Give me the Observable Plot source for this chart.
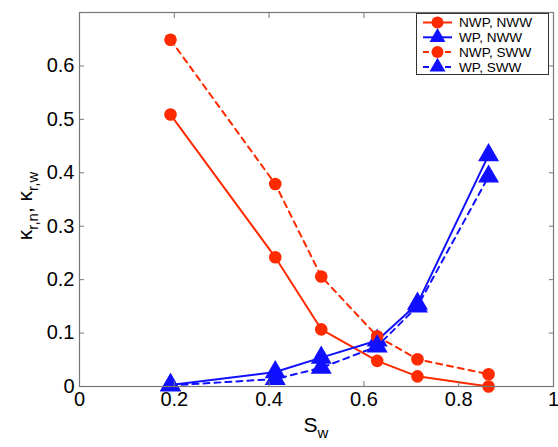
<!DOCTYPE html>
<html>
<head>
<meta charset="utf-8">
<script src="https://cdn.jsdelivr.net/npm/d3@7"></script>
<script src="https://cdn.jsdelivr.net/npm/@observablehq/plot@0.6"></script>
<style>
  body { margin: 0; background: #fff; }
  #wrap { position: relative; width: 558px; height: 447px; font-family: "Liberation Sans", Arial, sans-serif; }
  #legend { position: absolute; left: 416px; top: 13px; }
</style>
</head>
<body>
<div id="wrap"><div id="chart"></div><div id="legend"></div></div>
<script>
const sw = [0.192, 0.413, 0.51, 0.628, 0.713, 0.863];
const nwpNWW = [0.509, 0.242, 0.107, 0.048, 0.019, 0.0];
const wpNWW  = [0.003, 0.027, 0.054, 0.086, 0.155, 0.433];
const nwpSWW = [0.649, 0.379, 0.206, 0.094, 0.051, 0.023];
const wpSWW  = [0.002, 0.014, 0.035, 0.075, 0.150, 0.393];
const seriesNames = ["NWP, NWW", "WP, NWW", "NWP, SWW", "WP, SWW"];
const seriesValues = [nwpNWW, wpNWW, nwpSWW, wpSWW];
const xTicks = [0, 0.2, 0.4, 0.6, 0.8, 1];
const yTicks = [0, 0.1, 0.2, 0.3, 0.4, 0.5, 0.6];

const RED = "#ff2a00", BLUE = "#1010ff";
const style = {
  "NWP, NWW": {color: RED, dash: null, symbol: "circle"},
  "WP, NWW": {color: BLUE, dash: null, symbol: "triangle"},
  "NWP, SWW": {color: RED, dash: "6,5", symbol: "circle"},
  "WP, SWW": {color: BLUE, dash: "6,5", symbol: "triangle"}
};

const data = seriesNames.flatMap((name, i) => sw.map((x, j) => ({name, x, y: seriesValues[i][j]})));
const fmt = d => d === 0 ? "0" : d === 1 ? "1" : String(d);

const marks = [];
for (const name of seriesNames) {
  const s = style[name];
  const d = data.filter(r => r.name === name);
  marks.push(Plot.line(d, {x: "x", y: "y", stroke: s.color, strokeWidth: 2, strokeDasharray: s.dash}));
}
for (const name of seriesNames) {
  const s = style[name];
  const d = data.filter(r => r.name === name);
  marks.push(Plot.dot(d, {x: "x", y: "y", fill: s.color, stroke: "none", symbol: s.symbol, r: s.symbol === "circle" ? 6.3 : 7.8}));
}

const chart = Plot.plot({
  width: 558, height: 447,
  marginLeft: 79, marginRight: 5, marginTop: 12, marginBottom: 61,
  style: {fontFamily: "Liberation Sans, Arial, sans-serif", fontSize: "20px", color: "#000", background: "#fff"},
  x: {domain: [0, 1]},
  y: {domain: [0, 0.7]},
  marks: [
    ...marks,
    Plot.frame({stroke: "#777", strokeWidth: 1.2}),
    Plot.axisX(xTicks, {anchor: "bottom", tickSize: -5, tickPadding: 10, tickFormat: fmt, stroke: "#777", fontSize: 20, label: null}),
    Plot.axisX(xTicks, {anchor: "top", tickSize: -5, tickFormat: () => "", stroke: "#777", label: null}),
    Plot.axisY(yTicks, {anchor: "left", tickSize: -5, tickPadding: 10, tickFormat: fmt, stroke: "#777", fontSize: 20, label: null}),
    Plot.axisY(yTicks, {anchor: "right", tickSize: -5, tickFormat: () => "", stroke: "#777", label: null})
  ]
});
document.getElementById("chart").appendChild(chart);

// axis labels as SVG text
const svg = d3.select(chart);
const xl = svg.append("text").attr("x", 316).attr("y", 432).attr("text-anchor", "middle")
  .attr("font-size", 21).attr("fill", "#000");
xl.append("tspan").text("S");
xl.append("tspan").attr("font-size", 15).attr("dy", 6).text("w");

const yl = svg.append("text").attr("transform", "translate(32,206) rotate(-90)").attr("text-anchor", "middle")
  .attr("font-size", 21).attr("fill", "#000");
yl.append("tspan").text("κ");
yl.append("tspan").attr("font-size", 15).attr("dy", 6).text("r,n");
yl.append("tspan").attr("dy", -6).text(", κ");
yl.append("tspan").attr("font-size", 15).attr("dy", 6).text("r,w");

// legend
const lw = 133, lh = 62, step = 14.8;
const lg = d3.select("#legend").append("svg").attr("width", lw).attr("height", lh)
  .style("font-family", "Liberation Sans, Arial, sans-serif");
lg.append("rect").attr("x", 0.5).attr("y", 0.5).attr("width", lw - 1).attr("height", lh - 1)
  .attr("fill", "#fff").attr("stroke", "#333").attr("stroke-width", 1);
seriesNames.forEach((name, i) => {
  const s = style[name];
  const cy = 9.5 + i * step;
  lg.append("line").attr("x1", 7).attr("x2", 36).attr("y1", cy).attr("y2", cy)
    .attr("stroke", s.color).attr("stroke-width", 2).attr("stroke-dasharray", s.dash);
  const sym = s.symbol === "circle" ? d3.symbolCircle : d3.symbolTriangle;
  const size = s.symbol === "circle" ? Math.PI * 36 : 110;
  lg.append("path").attr("d", d3.symbol(sym, size)()).attr("transform", `translate(21.5,${cy})`).attr("fill", s.color);
  lg.append("text").attr("x", 43).attr("y", cy + 4.8).attr("font-size", 13.6).attr("fill", "#000").text(name);
});
</script>
</body>
</html>
